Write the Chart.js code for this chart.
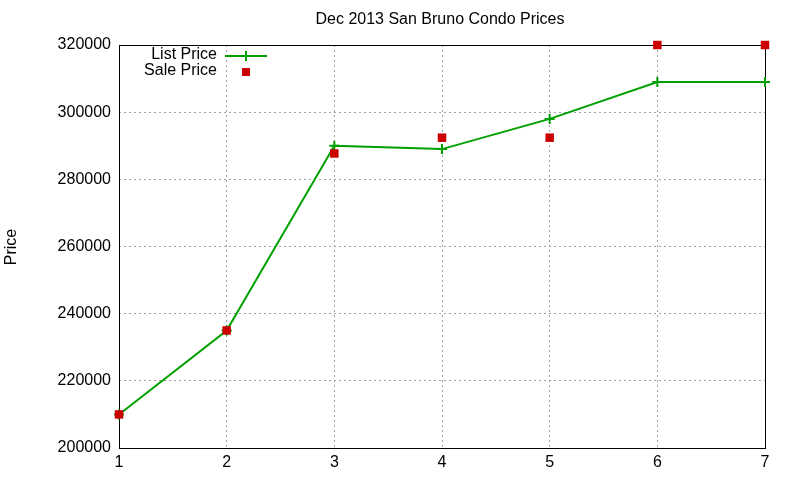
<!DOCTYPE html>
<html>
<head>
<meta charset="utf-8">
<script src="https://cdn.jsdelivr.net/npm/chart.js@4"></script>
<style>
  body { margin: 0; background: #fff; }
  #wrap { width: 800px; height: 480px; }
</style>
</head>
<body>
<div id="wrap"><canvas id="grafica" width="800" height="480"></canvas></div>
<script>
// datos
var semanas = [1, 2, 3, 4, 5, 6, 7];
var listPrice = [210000, 235000, 290000, 289000, 298000, 309000, 309000];
var salePrice = [210000, 235000, 287700, 292400, 292400, 320000, 320000];
var yTicks = [200000, 220000, 240000, 260000, 280000, 300000, 320000];

var titulo = "Dec 2013 San Bruno Condo Prices";
var fuente = "'Liberation Sans', Arial, sans-serif";
var verde = "#00a000";
var rojo = "#cc0000";

function puntos(xs, ys) {
  var p = [];
  for (var i = 0; i < xs.length; i++) {
    p.push({ x: xs[i], y: ys[i] });
  }
  return p;
}

// marco, titulo, etiqueta del eje y y leyenda (estilo gnuplot)
var extras = {
  id: "extras",
  beforeDatasetsDraw: function (chart) {
    var ctx = chart.ctx;
    var a = chart.chartArea;
    ctx.save();
    ctx.strokeStyle = "#000";
    ctx.lineWidth = 1;
    ctx.strokeRect(a.left + 0.5, a.top + 0.5, a.right - a.left, a.bottom - a.top);
    ctx.restore();
  },
  afterDraw: function (chart) {
    var ctx = chart.ctx;
    ctx.save();
    ctx.fillStyle = "#000";
    ctx.font = "16px " + fuente;
    ctx.textAlign = "center";
    ctx.textBaseline = "middle";
    ctx.fillText(titulo, 440, 20);

    ctx.save();
    ctx.translate(12, 247);
    ctx.rotate(-Math.PI / 2);
    ctx.fillText("Price", 0, 0);
    ctx.restore();

    // leyenda
    ctx.textAlign = "right";
    ctx.fillText("List Price", 217, 55);
    ctx.fillText("Sale Price", 217, 71);
    ctx.strokeStyle = verde;
    ctx.lineWidth = 2;
    ctx.beginPath();
    ctx.moveTo(225, 56);
    ctx.lineTo(267, 56);
    ctx.moveTo(246, 51);
    ctx.lineTo(246, 61);
    ctx.stroke();
    ctx.fillStyle = rojo;
    ctx.fillRect(242, 68, 8, 8);
    ctx.restore();
  }
};

new Chart(document.getElementById("grafica").getContext("2d"), {
  type: "line",
  data: {
    datasets: [
      {
        label: "List Price",
        data: puntos(semanas, listPrice),
        borderColor: verde,
        backgroundColor: verde,
        borderWidth: 2,
        pointRadius: 0,
        fill: false,
        clip: false,
        order: 3
      },
      {
        label: "List Price marks",
        data: puntos(semanas, listPrice),
        showLine: false,
        borderColor: verde,
        pointStyle: "cross",
        pointRadius: 5,
        pointBorderWidth: 2,
        clip: false,
        order: 2
      },
      {
        label: "Sale Price",
        data: puntos(semanas, salePrice),
        showLine: false,
        borderColor: rojo,
        backgroundColor: rojo,
        pointStyle: "rect",
        pointRadius: 6,
        pointBorderWidth: 0,
        clip: false,
        order: 1
      }
    ]
  },
  options: {
    responsive: false,
    animation: false,
    layout: { padding: { top: 45, right: 35, left: 0, bottom: 0 } },
    plugins: {
      legend: { display: false },
      title: { display: false },
      tooltip: { enabled: false }
    },
    scales: {
      x: {
        type: "linear",
        min: 1,
        max: 7,
        afterFit: function (s) { s.height = 32; },
        afterBuildTicks: function (s) {
          s.ticks = semanas.map(function (v) { return { value: v }; });
        },
        grid: {
          color: "#a0a0a0",
          lineWidth: 1,
          drawTicks: false
        },
        border: { display: false, dash: [2, 3] },
        ticks: {
          color: "#000",
          font: { family: fuente, size: 16 },
          padding: 5,
          maxRotation: 0
        }
      },
      y: {
        min: 200000,
        max: 320000,
        afterFit: function (s) { s.width = 119; },
        afterBuildTicks: function (s) {
          s.ticks = yTicks.map(function (v) { return { value: v }; });
        },
        grid: {
          color: "#a0a0a0",
          lineWidth: 1,
          drawTicks: false
        },
        border: { display: false, dash: [2, 3] },
        ticks: {
          color: "#000",
          font: { family: fuente, size: 16 },
          padding: 8,
          callback: function (v) { return String(v); }
        }
      }
    }
  },
  plugins: [extras]
});
</script>
</body>
</html>
